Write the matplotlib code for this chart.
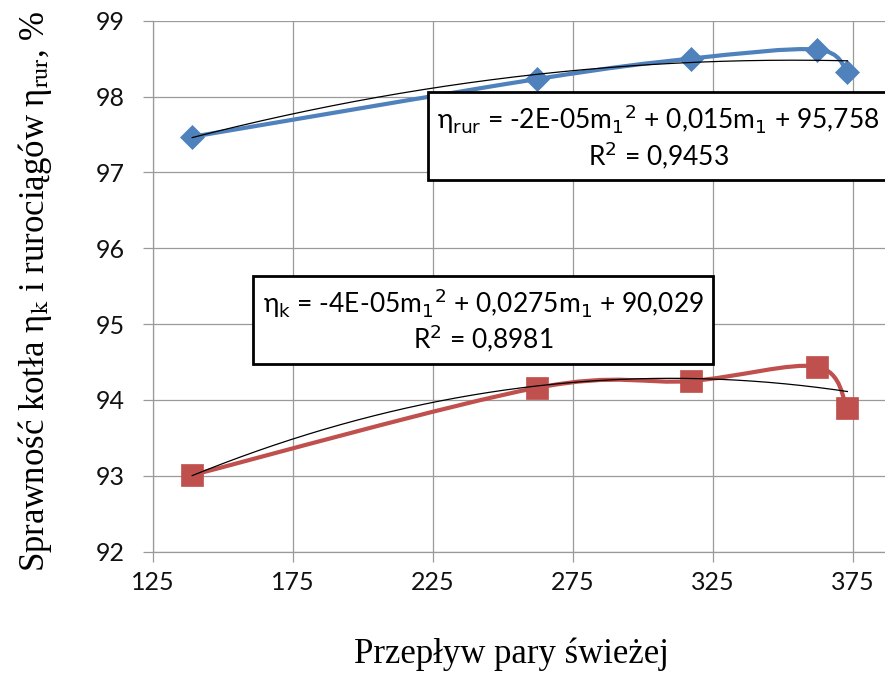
import numpy as np
import matplotlib
matplotlib.use("Agg")
import matplotlib.pyplot as plt
from matplotlib.path import Path
from matplotlib.patches import PathPatch

# Flow of fresh steam and measured efficiencies
flow = [139, 262, 317, 362, 373]
eta_rur = [97.47, 98.23, 98.50, 98.62, 98.33]   # pipelines
eta_k = [93.01, 94.16, 94.25, 94.44, 93.89]     # boiler

xticks = [125, 175, 225, 275, 325, 375]
yticks = [92, 93, 94, 95, 96, 97, 98, 99]

BLUE = "#4F81BD"
RED = "#C0504D"
GRID = "#9a9a9a"

plt.rcParams["font.family"] = ["Lato", "DejaVu Sans"]


def smooth_path(x, y):
    """Catmull-Rom style smoothed line as cubic Bezier path (like Excel)."""
    pts = np.column_stack([x, y]).astype(float)
    n = len(pts)
    verts = [pts[0]]
    codes = [Path.MOVETO]
    for i in range(n - 1):
        p_prev = pts[max(i - 1, 0)]
        p0 = pts[i]
        p1 = pts[i + 1]
        p_next = pts[min(i + 2, n - 1)]
        c1 = p0 + (p1 - p_prev) / 6.0
        c2 = p1 - (p_next - p0) / 6.0
        verts += [c1, c2, p1]
        codes += [Path.CURVE4] * 3
    return Path(verts, codes)


fig = plt.figure(figsize=(8.85, 6.75), dpi=100)
ax = fig.add_axes([153 / 885, 1 - 551.7 / 675, 1 - 153 / 885, (551.7 - 20.7) / 675])

for y, color, marker, ms in [(eta_rur, BLUE, "D", 12), (eta_k, RED, "s", 16)]:
    ax.add_patch(PathPatch(smooth_path(flow, y), fill=False, edgecolor=color,
                           lw=3.0, zorder=3, capstyle="round"))
    ax.plot(flow, y, linestyle="none", marker=marker, ms=ms, color=color,
            mec=color, mew=0.5, zorder=4)
    # 2nd order polynomial trendline
    coef = np.polyfit(flow, y, 2)
    xs = np.linspace(flow[0], flow[-1], 200)
    ax.plot(xs, np.polyval(coef, xs), color="black", lw=0.9, zorder=5)

ax.set_xlim(125, 125 + (885 - 153) / 2.8)
ax.set_ylim(92, 99)
ax.set_xticks(xticks)
ax.set_yticks(yticks)
ax.grid(True, color=GRID, lw=0.9)
ax.set_axisbelow(True)
for side in ["top", "right"]:
    ax.spines[side].set_visible(False)
for side in ["left", "bottom"]:
    ax.spines[side].set_color(GRID)
    ax.spines[side].set_linewidth(0.9)
ax.tick_params(axis="both", direction="out", length=7, width=0.9, color=GRID,
               labelsize=18, labelcolor="#111111")
ax.tick_params(axis="y", pad=13)
ax.tick_params(axis="x", pad=7)

ax.set_xlabel("Przepływ pary świeżej", family="Liberation Serif", fontsize=25)
ax.xaxis.set_label_coords(0.49, -0.162)
ax.set_ylabel("Sprawność kotła η$_\\mathrm{k}$ i rurociągów η$_\\mathrm{rur}$, %",
              family="Liberation Serif", fontsize=25, math_fontfamily="stix")
ax.yaxis.set_label_coords(-0.135, 0.49)

box = dict(boxstyle="square,pad=0.35", fc="white", ec="black", lw=2)
ax.text(305.5, 97.47,
        "η$_\\mathrm{rur}$ = -2E-05m$_1{}^2$ + 0,015m$_1$ + 95,758\nR$^2$ = 0,9453",
        ha="center", va="center", fontsize=19, linespacing=1.1,
        math_fontfamily="dejavusans", bbox=box, zorder=6)
ax.text(242.9, 95.05,
        "η$_\\mathrm{k}$ = -4E-05m$_1{}^2$ + 0,0275m$_1$ + 90,029\nR$^2$ = 0,8981",
        ha="center", va="center", fontsize=19, linespacing=1.1,
        math_fontfamily="dejavusans", bbox=box, zorder=6)

fig.savefig("out.png", dpi=100)
